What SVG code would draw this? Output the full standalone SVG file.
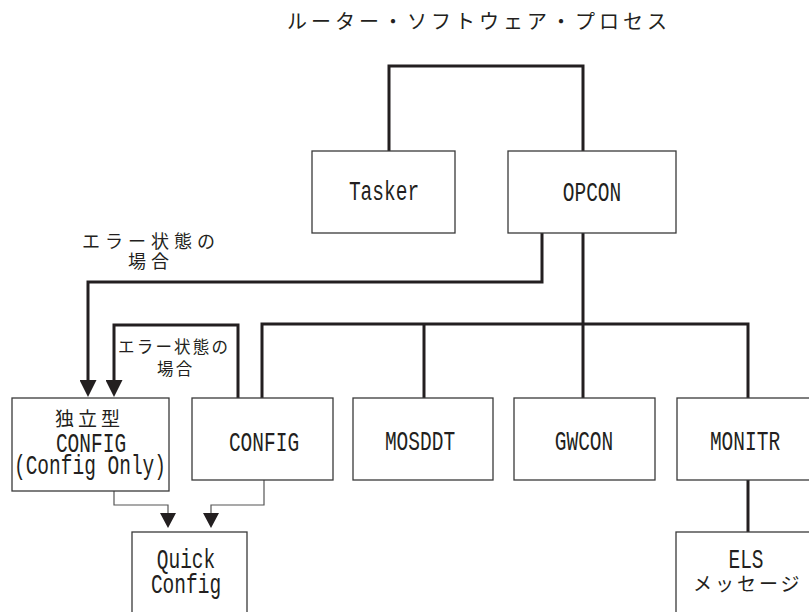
<svg xmlns="http://www.w3.org/2000/svg" width="809" height="612" viewBox="0 0 809 612">
<style>
.box{fill:#fff;stroke:#3a3a3a;stroke-width:1.3}
.thick{fill:none;stroke:#231f20;stroke-width:3}
.thin{fill:none;stroke:#555;stroke-width:1.2}
.mono{font-family:"Liberation Mono","DejaVu Sans Mono",monospace;font-size:19.5px;fill:#231f20;text-anchor:middle}
.jp{font-family:"Noto Sans CJK JP","Noto Sans",sans-serif;fill:#231f20}
</style>
<defs>
<marker id="ah" markerUnits="userSpaceOnUse" markerWidth="17" markerHeight="17" viewBox="0 0 17 17" refX="0" refY="8.5" orient="auto">
<path d="M0,0 L17,8.5 L0,17 Z" fill="#231f20"/>
</marker>
<marker id="ahs" markerUnits="userSpaceOnUse" markerWidth="15" markerHeight="16" viewBox="0 0 15 16" refX="0" refY="8" orient="auto">
<path d="M0,0 L15,8 L0,16 Z" fill="#231f20"/>
</marker>
</defs>
<rect width="809" height="612" fill="#fff"/>

<text class="jp" x="287" y="29" font-size="20" letter-spacing="4">ルーター・ソフトウェア・プロセス</text>

<g id="connectors">
<path class="thick" d="M389,151 V66 H583 V151"/>
<path class="thick" d="M583,233 V398"/>
<path class="thick" d="M262,398 V324 H748 V398"/>
<path class="thick" d="M424,324 V398"/>
<path class="thick" d="M748,480 V532"/>
<path class="thick" d="M542,233 V282 H88 V380" marker-end="url(#ah)"/>
<path class="thick" d="M238,398 V325 H114 V380" marker-end="url(#ah)"/>
<path class="thin" d="M114,491 V505 H168 V513" marker-end="url(#ahs)"/>
<path class="thin" d="M264,480 V505 H211 V513" marker-end="url(#ahs)"/>
<g id="label-error-1">
<text class="jp" x="82" y="248" font-size="18" letter-spacing="5">エラー状態の</text>
<text class="jp" x="128" y="268" font-size="18" letter-spacing="5">場合</text>
</g>
<g id="label-error-2">
<text class="jp" x="118" y="353" font-size="16.5" letter-spacing="2.2">エラー状態の</text>
<text class="jp" x="157" y="375" font-size="16.5" letter-spacing="2.2">場合</text>
</g>
</g>

<g id="tasker">
<rect class="box" x="312" y="151" width="143" height="82"/>
<text class="mono" transform="translate(384,200) scale(1,1.38)">Tasker</text>
</g>
<g id="opcon">
<rect class="box" x="508" y="151" width="168" height="82"/>
<text class="mono" transform="translate(592,201) scale(1,1.38)">OPCON</text>
</g>
<g id="standalone-config">
<rect class="box" x="12" y="398" width="157" height="93"/>
<text class="jp" x="55" y="426" font-size="19" letter-spacing="4">独立型</text>
<text class="mono" transform="translate(91,452) scale(1,1.38)">CONFIG</text>
<text class="mono" transform="translate(90,474) scale(1,1.38)">(Config Only)</text>
</g>
<g id="config">
<rect class="box" x="192" y="398" width="141" height="82"/>
<text class="mono" transform="translate(264,451) scale(1,1.38)">CONFIG</text>
</g>
<g id="mosddt">
<rect class="box" x="353" y="398" width="140" height="82"/>
<text class="mono" transform="translate(420,450) scale(1,1.38)">MOSDDT</text>
</g>
<g id="gwcon">
<rect class="box" x="514" y="398" width="141" height="82"/>
<text class="mono" transform="translate(584,450) scale(1,1.38)">GWCON</text>
</g>
<g id="monitr">
<rect class="box" x="677" y="398" width="136" height="82"/>
<text class="mono" transform="translate(745,450) scale(1,1.38)">MONITR</text>
</g>
<g id="quick-config">
<rect class="box" x="132" y="532" width="115" height="90"/>
<text class="mono" transform="translate(186,568) scale(1,1.38)">Quick</text>
<text class="mono" transform="translate(186,593) scale(1,1.38)">Config</text>
</g>
<g id="els">
<rect class="box" x="676" y="532" width="137" height="90"/>
<text class="mono" transform="translate(746,568) scale(1,1.38)">ELS</text>
<text class="jp" x="693" y="591" font-size="19" letter-spacing="3">メッセージ</text>
</g>
</svg>
